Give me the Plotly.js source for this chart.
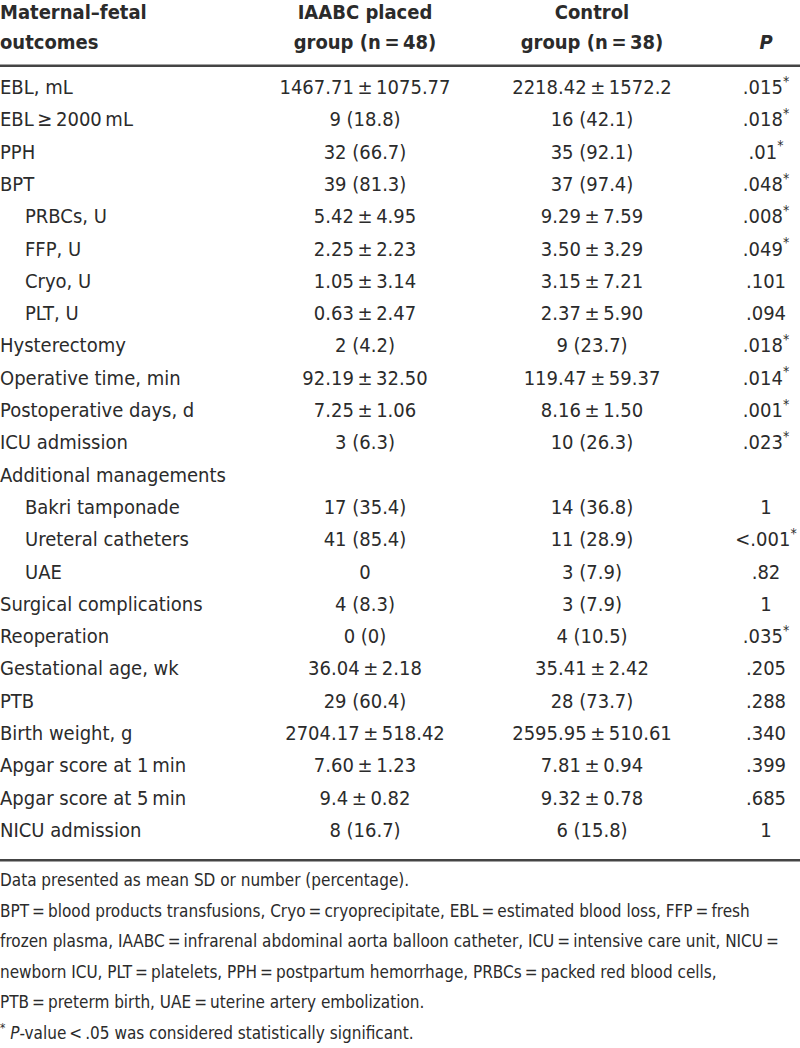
<!DOCTYPE html>
<html>
<head>
<meta charset="utf-8">
<script src="https://cdn.plot.ly/plotly-3.0.1.min.js"></script>
<style>
  html, body { margin: 0; padding: 0; background: #fff; }
  #chart { width: 800px; height: 1048px; }
</style>
</head>
<body>
<div id="chart"></div>
<script>
// table content
const outcomes = [
  'EBL, mL', 'EBL\u2009≥\u20092000\u2009mL', 'PPH', 'BPT',
  'PRBCs, U', 'FFP, U', 'Cryo, U', 'PLT, U',
  'Hysterectomy', 'Operative time, min', 'Postoperative days, d', 'ICU admission',
  'Additional managements', 'Bakri tamponade', 'Ureteral catheters', 'UAE',
  'Surgical complications', 'Reoperation', 'Gestational age, wk', 'PTB',
  'Birth weight, g', 'Apgar score at 1\u2009min', 'Apgar score at 5\u2009min', 'NICU admission'
]
const indented = [false, false, false, false, true, true, true, true,
  false, false, false, false, false, true, true, true,
  false, false, false, false, false, false, false, false]

const iaabcGroup = [
  '1467.71\u2009±\u20091075.77', '9 (18.8)', '32 (66.7)', '39 (81.3)',
  '5.42\u2009±\u20094.95', '2.25\u2009±\u20092.23', '1.05\u2009±\u20093.14', '0.63\u2009±\u20092.47',
  '2 (4.2)', '92.19\u2009±\u200932.50', '7.25\u2009±\u20091.06', '3 (6.3)',
  '', '17 (35.4)', '41 (85.4)', '0',
  '4 (8.3)', '0 (0)', '36.04\u2009±\u20092.18', '29 (60.4)',
  '2704.17\u2009±\u2009518.42', '7.60\u2009±\u20091.23', '9.4\u2009±\u20090.82', '8 (16.7)'
]
const controlGroup = [
  '2218.42\u2009±\u20091572.2', '16 (42.1)', '35 (92.1)', '37 (97.4)',
  '9.29\u2009±\u20097.59', '3.50\u2009±\u20093.29', '3.15\u2009±\u20097.21', '2.37\u2009±\u20095.90',
  '9 (23.7)', '119.47\u2009±\u200959.37', '8.16\u2009±\u20091.50', '10 (26.3)',
  '', '14 (36.8)', '11 (28.9)', '3 (7.9)',
  '3 (7.9)', '4 (10.5)', '35.41\u2009±\u20092.42', '28 (73.7)',
  '2595.95\u2009±\u2009510.61', '7.81\u2009±\u20090.94', '9.32\u2009±\u20090.78', '6 (15.8)'
]
const pValues = [
  '.015', '.018', '.01', '.048', '.008', '.049', '.101', '.094',
  '.018', '.014', '.001', '.023', '', '1', '&lt;.001', '.82',
  '1', '.035', '.205', '.288', '.340', '.399', '.685', '1'
]
const significant = [true, true, true, true, true, true, false, false,
  true, true, true, true, false, false, true, false,
  false, true, false, false, false, false, false, false]

const headerLines = [
  ['Maternal–fetal', 'IAABC placed', 'Control'],
  ['outcomes', 'group (n\u2009=\u200948)', 'group (n\u2009=\u200938)', '<i>P</i>']
]

const footnotes = [
  'Data presented as mean SD or number (percentage).',
  'BPT\u2009=\u2009blood products transfusions, Cryo\u2009=\u2009cryoprecipitate, EBL\u2009=\u2009estimated blood loss, FFP\u2009=\u2009fresh',
  'frozen plasma, IAABC\u2009=\u2009infrarenal abdominal aorta balloon catheter, ICU\u2009=\u2009intensive care unit, NICU\u2009=',
  'newborn ICU, PLT\u2009=\u2009platelets, PPH\u2009=\u2009postpartum hemorrhage, PRBCs\u2009=\u2009packed red blood cells,',
  'PTB\u2009=\u2009preterm birth, UAE\u2009=\u2009uterine artery embolization.',
  '<sup>*</sup> <i>P</i>-value\u2009&lt;\u2009.05 was considered statistically significant.'
]

// column anchors (x in px units of the page)
const colLabel = 0, colIndent = 25, colIaabc = 365, colControl = 592, colP = 766
const colCenters = [colIaabc, colControl, colP]
const font = '"DejaVu Sans Condensed", "Liberation Sans Narrow", sans-serif'
const ink = '#2b2b2b'

const bodyFont = { family: font, size: 20, color: ink }

// one text trace per column, skipping empty cells
function column (texts, xs, pos) {
  const keep = texts.map((t, i) => i).filter(i => texts[i] !== '')
  return {
    x: keep.map(i => xs[i]),
    y: keep,
    text: keep.map(i => texts[i]),
    textposition: pos,
  }
}

const headerRows = [-2.33, -1.4]
function headerTrace (line, row) {
  return {
    x: line.map((_, j) => j === 0 ? colLabel : colCenters[j - 1]),
    y: line.map(() => headerRows[row]),
    text: line.map(t => '<b>' + t + '</b>'),
    textposition: line.map((_, j) => j === 0 ? 'middle right' : 'middle center'),
  }
}

const traces = [
  column(outcomes, indented.map(f => f ? colIndent : colLabel), 'middle right'),
  column(iaabcGroup, iaabcGroup.map(() => colIaabc), 'middle center'),
  column(controlGroup, controlGroup.map(() => colControl), 'middle center'),
  column(pValues.map((p, i) => significant[i] ? p + '<sup>*</sup>' : p), pValues.map(() => colP), 'middle center'),
  headerTrace(headerLines[0], 0),
  headerTrace(headerLines[1], 1),
  {
    x: footnotes.map(() => colLabel),
    y: footnotes.map((_, i) => 24.55 + i * 0.945),
    text: footnotes,
    textposition: 'middle right',
    textfont: { family: font, size: 17, color: ink },
  },
].map(t => Object.assign({
  type: 'scatter',
  mode: 'text',
  hoverinfo: 'skip',
  showlegend: false,
  textfont: bodyFont,
}, t))

const rowPx = 32.3
const firstRowPx = 89
const yTop = -firstRowPx / rowPx
const yBottom = yTop + 1048 / rowPx

const layout = {
  width: 800,
  height: 1048,
  margin: { l: 0, r: 0, t: 0, b: 0 },
  paper_bgcolor: '#fff',
  plot_bgcolor: '#fff',
  xaxis: { range: [0, 800], visible: false, fixedrange: true },
  yaxis: { range: [yBottom, yTop], visible: false, fixedrange: true },
  shapes: [
    { type: 'line', xref: 'paper', yref: 'y', x0: 0, x1: 1, y0: -0.72, y1: -0.72, line: { color: '#444', width: 2.5 } },
    { type: 'line', xref: 'paper', yref: 'y', x0: 0, x1: 1, y0: 23.88, y1: 23.88, line: { color: '#444', width: 2.5 } },
  ],
}

Plotly.newPlot('chart', traces, layout, { displayModeBar: false, staticPlot: true })
</script>
</body>
</html>
